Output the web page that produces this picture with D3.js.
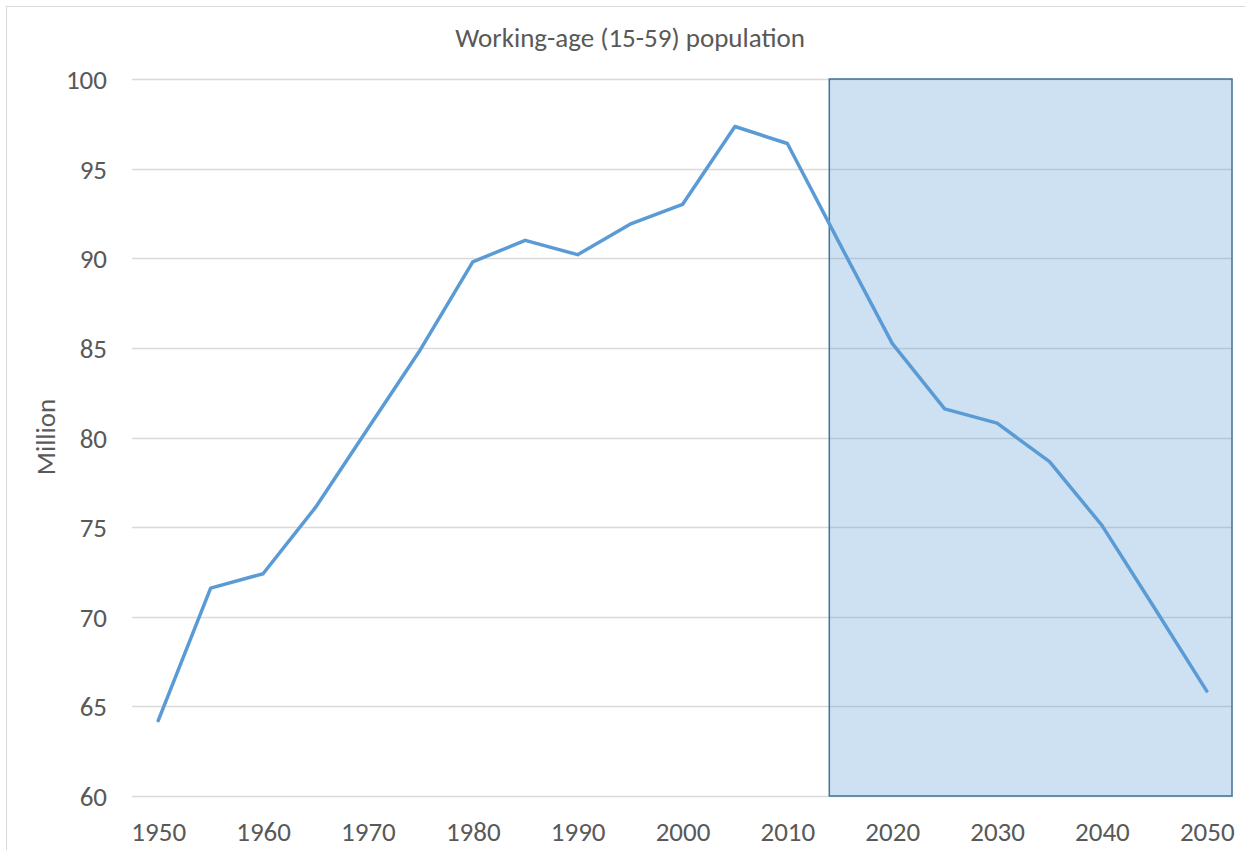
<!DOCTYPE html>
<html>
<head>
<meta charset="utf-8">
<script src="https://cdn.jsdelivr.net/npm/d3@7"></script>
<style>
  html, body { margin: 0; padding: 0; background: #fff; }
  svg { display: block; }
  text { font-family: Carlito, Calibri, "Open Sans", "Noto Sans", sans-serif; fill: #595959; }
</style>
</head>
<body>
<svg id="chart" width="1245" height="850"></svg>
<script>
const years = [1950,1955,1960,1965,1970,1975,1980,1985,1990,1995,2000,2005,2010,2015,2020,2025,2030,2035,2040,2045,2050];
const population = [64.2,71.6,72.4,76.1,80.5,84.9,89.8,91.0,90.2,91.9,93.0,97.35,96.4,90.8,85.25,81.6,80.8,78.65,75.1,70.5,65.85];
const yTicks = [60,65,70,75,80,85,90,95,100];
const xTickYears = [1950,1960,1970,1980,1990,2000,2010,2020,2030,2040,2050];
const projectionStart = 2014;
const title = "Working-age (15-59) population";
const yLabel = "Million";

const svg = d3.select("#chart");
const W = 1245, H = 850;
const plot = { left: 132, right: 1233, top: 79, bottom: 796 };
const FS = 27;
const FF = "Carlito, Calibri, 'Open Sans', sans-serif";

// chart border
svg.append("rect").attr("x", 6.5).attr("y", 6.5).attr("width", W - 5).attr("height", H)
  .attr("fill", "#fff").attr("stroke", "#d9d9d9").attr("stroke-width", 1);

const x = d3.scalePoint().domain(years).range([plot.left, plot.right]).padding(0.5);
// continuous year scale aligned with category centers (for the projection shading)
const xYear = d3.scaleLinear().domain([years[0], years[years.length - 1]])
  .range([x(years[0]), x(years[years.length - 1])]);
const y = d3.scaleLinear().domain([60, 100]).range([plot.bottom, plot.top]);

// gridlines
const grid = svg.append("g");
grid.selectAll("line").data(yTicks).join("line")
  .attr("x1", plot.left).attr("x2", plot.right)
  .attr("y1", d => Math.round(y(d)) + 0.5).attr("y2", d => Math.round(y(d)) + 0.5)
  .attr("stroke", "#d9d9d9").attr("stroke-width", 1.3);

// projection shading
svg.append("rect")
  .attr("x", xYear(projectionStart))
  .attr("y", y(100))
  .attr("width", plot.right - 1 - xYear(projectionStart))
  .attr("height", y(60) - y(100))
  .attr("fill", "#5b9bd5").attr("fill-opacity", 0.3)
  .attr("stroke", "#41719c").attr("stroke-width", 1.5);

// y axis labels
const yAxis = d3.axisLeft(y).tickValues(yTicks).tickSize(0).tickPadding(0);
const gy = svg.append("g").attr("transform", `translate(${107},0)`).call(yAxis);
gy.select(".domain").remove();
gy.selectAll("text").attr("font-size", FS).attr("fill", "#595959").attr("dy", null)
  .attr("dominant-baseline", "central").style("font-family", FF);

// x axis labels
const xAxis = d3.axisBottom(x).tickValues(xTickYears).tickSize(0).tickPadding(0);
const gx = svg.append("g").attr("transform", `translate(0,${831})`).call(xAxis);
gx.select(".domain").remove();
gx.selectAll("text").attr("font-size", FS).attr("fill", "#595959").attr("y", 0).attr("dy", null)
  .attr("dominant-baseline", "central").style("font-family", FF);

// line
const line = d3.line().x((d, i) => x(years[i])).y(d => y(d));
svg.append("path").datum(population)
  .attr("d", line).attr("fill", "none")
  .attr("stroke", "#5b9bd5").attr("stroke-width", 3.5)
  .attr("stroke-linejoin", "round").attr("stroke-linecap", "round");

// title
svg.append("text").attr("x", 630).attr("y", 37).attr("text-anchor", "middle")
  .attr("dominant-baseline", "central").attr("font-size", FS).text(title);

// y label
svg.append("text").attr("transform", `translate(45,437) rotate(-90)`)
  .attr("text-anchor", "middle").attr("dominant-baseline", "central")
  .attr("font-size", FS).text(yLabel);
</script>
</body>
</html>
